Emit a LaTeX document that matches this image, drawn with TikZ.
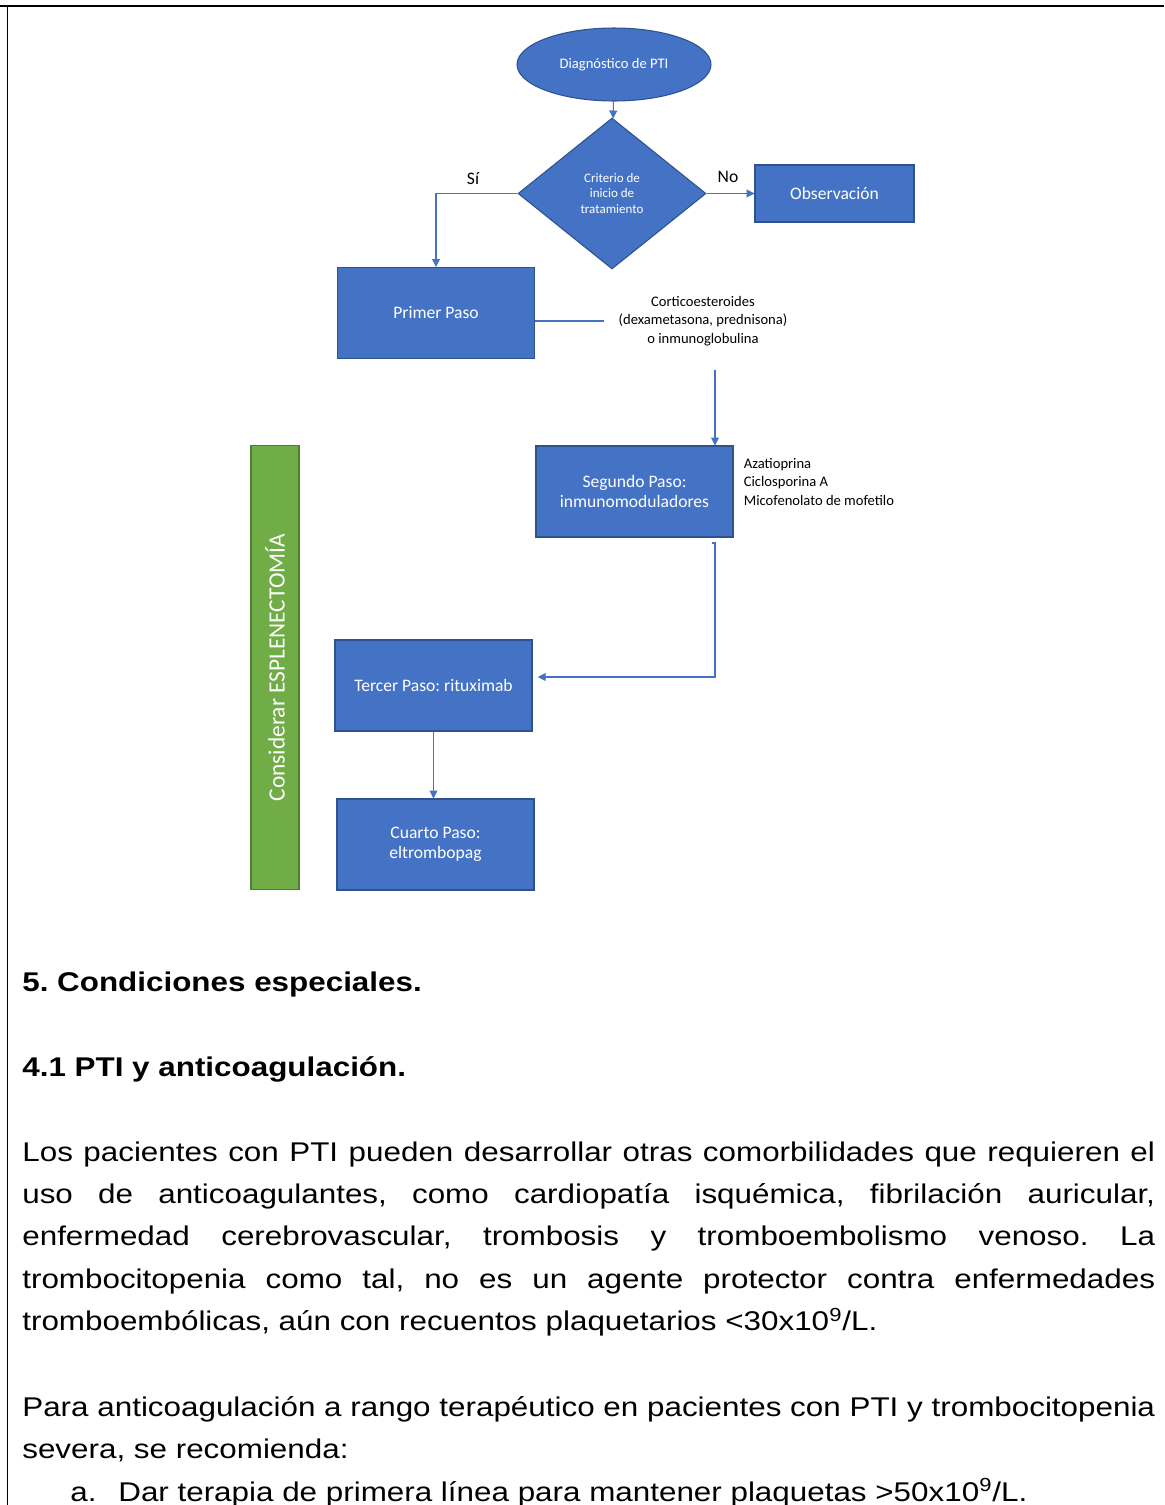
\documentclass[tikz,border=0pt]{standalone}
\usepackage{fontspec}
\usepackage{xcolor,tikz}
\usetikzlibrary{positioning,calc,shapes.geometric,arrows.meta}
\setmainfont{Carlito}
\newfontfamily\bodyfont{Liberation Sans}[FakeStretch=1.16]
\frenchspacing
\definecolor{ptiBlueFill}{HTML}{4472C4}
\definecolor{ptiBlueLine}{HTML}{2F528F}
\definecolor{ptiGreenFill}{HTML}{70AD47}
\definecolor{ptiGreenLine}{HTML}{507E32}
\tikzset{
  start node/.style={
    ellipse, draw=ptiBlueLine, fill=ptiBlueFill,
    line width=0.6pt, minimum width=3.88cm, minimum height=1.46cm,
    font=\fontsize{8.3}{10}\selectfont, text=white, inner sep=0pt,
  },
  decision node/.style={
    diamond, draw=ptiBlueLine, fill=ptiBlueFill,
    line width=0.6pt, minimum width=3.76cm, minimum height=3.02cm,
    font=\fontsize{7.4}{8.8}\selectfont, text=white, align=center, inner sep=0pt,
  },
  paso box/.style={
    rectangle, draw=ptiBlueLine, fill=ptiBlueFill,
    line width=0.6pt, minimum width=3.94cm, minimum height=1.82cm,
    font=\fontsize{10}{11.6}\selectfont, text=white, align=center, inner sep=2pt,
  },
  espl bar/.style={
    rectangle, draw=ptiGreenLine, fill=ptiGreenFill,
    line width=0.6pt, minimum width=8.9cm, minimum height=0.96cm,
    font=\fontsize{13.3}{15}\selectfont, text=white, inner sep=0pt,
  },
  flow edge/.style={
    draw=ptiBlueFill, line width=0.6pt, -{Triangle[length=4.5pt,width=4.5pt]},
  },
  plain edge/.style={
    draw=ptiBlueFill, line width=0.6pt,
  },
  note text/.style={font=\fontsize{8.3}{10.6}\selectfont, inner sep=2pt},
  branch label/.style={font=\fontsize{10}{12}\selectfont, inner sep=0pt},
  body text/.style={
    font=\bodyfont\fontsize{15.4}{24.1}\selectfont\frenchspacing, inner sep=0pt, anchor=base west,
  },
}

\begin{document}
\begin{tikzpicture}[x=0.02cm, y=-0.02cm]
\useasboundingbox (0,0) rectangle (1164,1505);
\fill[white] (0,0) rectangle (1164,1505);

% page frame (top rule and left rule)
\draw[line width=1.4pt] (0,6) -- (240,6);
\draw[line width=0.6pt] (240,6) -- (940,6);
\draw[line width=1.4pt] (940,6) -- (1164,6);
\draw[line width=1.1pt] (7.5,6) -- (7.5,1505);

%% Flowchart ==========================================================

% Start and decision
\node[start node] (diag) at (614,64.5) {Diagnóstico de PTI};
\node[decision node] (crit) at (612,193.5) {Criterio de\\inicio de\\tratamiento};
\node[paso box, minimum width=3.18cm, minimum height=1.14cm] (obs) at (834.5,193.5) {Observación};
\node[branch label] (si) at (473,179) {Sí};
\node[branch label] (no) at (728,177) {No};

% Steps
\node[paso box] (primer) at (436,313) {Primer Paso};
\node[note text, align=center] (cortic) at (703,321)
  {Corticoesteroides\\(dexametasona, prednisona)\\o inmunoglobulina};
\node[paso box] (segundo) at (634.5,491.5) {Segundo Paso:\\inmunomoduladores};
\node[note text, align=left, anchor=west] (farmacos) at (740,482)
  {Azatioprina\\Ciclosporina A\\Micofenolato de mofetilo};
\node[paso box] (tercer) at (433.5,685.5) {Tercer Paso: rituximab};
\node[paso box] (cuarto) at (435.5,844.5) {Cuarto Paso:\\eltrombopag};

% Side bar
\node[espl bar, rotate=90] (espl) at (275,667.5) {Considerar ESPLENECTOMÍA};

% Connectors
\draw[flow edge] (diag) -- (crit);
\draw[flow edge] (crit.west) -| (primer.north);
\draw[flow edge] (crit.east) -- (crit.east -| obs.west);
\draw[plain edge, shorten >=6pt] (primer.east |- cortic) -- (cortic.west);
\coordinate (c2) at (715,370);
\draw[flow edge] (c2) -- (c2 |- segundo.north);
\coordinate (c3) at (712,543);
\draw[flow edge, shorten >=3pt] (c3) -- ++(3,0) |- ([yshift=0.17cm]tercer.east);
\draw[flow edge] (tercer.south) -- (tercer.south |- cuarto.north);

%% Body text ==========================================================

\node[body text] (sec5) at (22,991) {\bfseries 5. Condiciones especiales.};
\node[body text] (sec41) at (22,1076) {\bfseries 4.1 PTI y anticoagulación.};
\node[body text, text width=22.66cm, align=justify] (parA) at (22,1161)
  {Los pacientes con PTI pueden desarrollar otras comorbilidades que requieren el\linebreak
   uso de anticoagulantes, como cardiopatía isquémica, fibrilación auricular,\linebreak
   enfermedad cerebrovascular, trombosis y tromboembolismo venoso. La\linebreak
   trombocitopenia como tal, no es un agente protector contra enfermedades\linebreak
   tromboembólicas, aún con recuentos plaquetarios <30x10\textsuperscript{9}/L.};
\node[body text, text width=22.66cm, align=justify] (parB) at (22,1416)
  {Para anticoagulación a rango terapéutico en pacientes con PTI y trombocitopenia\linebreak
   severa, se recomienda:};
\node[body text] (itemA) at (70,1501)
  {\makebox[0.96cm][l]{a.}Dar terapia de primera línea para mantener plaquetas >50x10\textsuperscript{9}/L.};

\end{tikzpicture}
\end{document}
